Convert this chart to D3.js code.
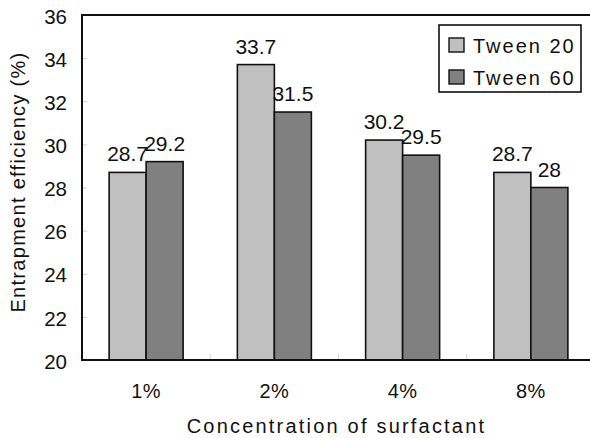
<!DOCTYPE html>
<html>
<head>
<meta charset="utf-8">
<script src="https://cdn.jsdelivr.net/npm/d3@7"></script>
<style>
  body { margin: 0; background: #fff; }
  svg { display: block; font-family: "Liberation Sans", Arial, sans-serif; }
</style>
</head>
<body>
<div id="chart"></div>
<script>
const categories = ["1%", "2%", "4%", "8%"];
const series = ["Tween 20", "Tween 60"];
const tween20 = [28.7, 33.7, 30.2, 28.7];
const tween60 = [29.2, 31.5, 29.5, 28];
const yTicks = [20, 22, 24, 26, 28, 30, 32, 34, 36];
const colors = ["#c0c0c0", "#808080"];

const W = 590, H = 438;
const plot = { left: 82, right: 595, top: 15, bottom: 360 };

const svg = d3.select("#chart").append("svg")
  .attr("width", W).attr("height", H);

const y = d3.scaleLinear().domain([20, 36]).range([plot.bottom, plot.top]);
const x0 = d3.scaleBand().domain(categories).range([plot.left, plot.right]);
const x1 = d3.scaleBand().domain(series).range([0, x0.bandwidth()])
  .paddingInner(0).paddingOuter(0.733);
const color = d3.scaleOrdinal().domain(series).range(colors);

const rows = categories.map((c, i) => ({ cat: c, vals: [
  { s: series[0], v: tween20[i] },
  { s: series[1], v: tween60[i] }
]}));

// y axis: grey ticks pointing inward, labels on the left
const yAxis = svg.append("g")
  .attr("transform", `translate(${plot.left},0)`)
  .call(d3.axisLeft(y).tickValues(yTicks).tickSize(-5).tickPadding(15));
yAxis.select(".domain").remove();
yAxis.selectAll(".tick line").attr("stroke", "#cfcfcf");
yAxis.selectAll("text").attr("font-size", 20.5).attr("fill", "#111")
  .attr("font-family", "Liberation Sans, Arial, sans-serif").attr("dy", "0.4em");

// x axis labels
const xAxis = svg.append("g")
  .attr("transform", `translate(0,${plot.bottom})`)
  .call(d3.axisBottom(x0).tickSize(0).tickPadding(24));
xAxis.select(".domain").remove();
xAxis.selectAll("text").attr("font-size", 20).attr("fill", "#111")
  .attr("font-family", "Liberation Sans, Arial, sans-serif")
  .attr("letter-spacing", 0.5);

// grey tick marks between categories
svg.append("g").selectAll("line")
  .data(categories.slice(1))
  .join("line")
  .attr("x1", d => x0(d)).attr("x2", d => x0(d))
  .attr("y1", plot.bottom).attr("y2", plot.bottom - 6)
  .attr("stroke", "#cfcfcf");

// bars
const groups = svg.append("g").selectAll("g")
  .data(rows)
  .join("g")
  .attr("transform", d => `translate(${x0(d.cat)},0)`);

groups.selectAll("rect")
  .data(d => d.vals)
  .join("rect")
  .attr("x", d => x1(d.s))
  .attr("y", d => y(d.v))
  .attr("width", x1.bandwidth())
  .attr("height", d => y(20) - y(d.v))
  .attr("fill", d => color(d.s))
  .attr("stroke", "#111")
  .attr("stroke-width", 1.6);

groups.selectAll("text")
  .data(d => d.vals)
  .join("text")
  .attr("x", d => x1(d.s) + x1.bandwidth() / 2)
  .attr("y", d => y(d.v) - 11)
  .attr("text-anchor", "middle")
  .attr("font-size", 21)
  .attr("fill", "#111")
  .text(d => d.v);

// frame: left, top, bottom
svg.append("path")
  .attr("d", `M${plot.right},${plot.top}H${plot.left}V${plot.bottom}H${plot.right}`)
  .attr("fill", "none").attr("stroke", "#111").attr("stroke-width", 2);

// axis titles
svg.append("text")
  .attr("x", (plot.left + plot.right) / 2 - 2)
  .attr("y", 433)
  .attr("text-anchor", "middle")
  .attr("font-size", 20)
  .attr("letter-spacing", 2.2)
  .attr("fill", "#111")
  .text("Concentration of surfactant");

svg.append("text")
  .attr("transform", `translate(25,${182}) rotate(-90)`)
  .attr("text-anchor", "middle")
  .attr("font-size", 20)
  .attr("letter-spacing", 1.3)
  .attr("fill", "#111")
  .text("Entrapment efficiency (%)");

// legend
const legend = svg.append("g").attr("transform", "translate(439,25)");
legend.append("rect")
  .attr("width", 142).attr("height", 67)
  .attr("fill", "#fff").attr("stroke", "#111").attr("stroke-width", 1.6);
const items = legend.selectAll("g.item")
  .data(series)
  .join("g")
  .attr("class", "item")
  .attr("transform", (d, i) => `translate(10,${13 + i * 32})`);
items.append("rect")
  .attr("width", 15).attr("height", 14)
  .attr("fill", d => color(d)).attr("stroke", "#111").attr("stroke-width", 1.4);
items.append("text")
  .attr("x", 24).attr("y", 15)
  .attr("font-size", 20)
  .attr("letter-spacing", 2)
  .attr("fill", "#111")
  .text(d => d);
</script>
</body>
</html>
